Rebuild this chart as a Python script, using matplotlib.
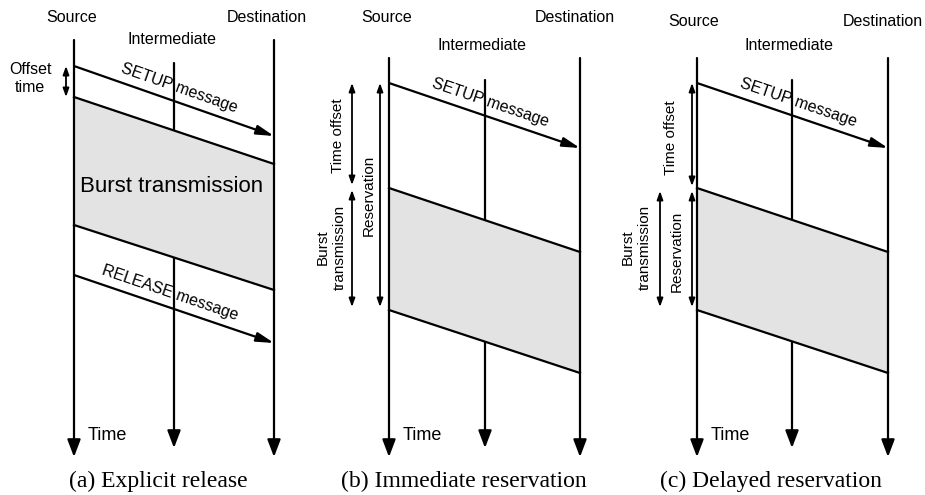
import numpy as np
import matplotlib
matplotlib.use('Agg')
import matplotlib.pyplot as plt
from matplotlib.patches import Polygon

plt.rcParams['font.family'] = ['Liberation Sans', 'DejaVu Sans']

# node columns for the three panels (a), (b), (c)
src_x = [74, 389, 697]
mid_x = [174, 485, 792]
dst_x = [274, 580, 888]
line_top = [40, 58, 58]
mid_top = [63, 80, 80]
tip_y = 457
mid_tip_y = 448

# message / burst edges: (y at source, y at destination)
setup_y = [(66, 136), (83, 148), (83, 148)]
burst_top = [(97, 164), (188, 252), (188, 252)]
burst_bot = [(225, 290), (310, 373), (310, 373)]
release_y = (275, 343)

node_names = ['Source', 'Intermediate', 'Destination']
name_y = [(17, 40, 17), (18, 45, 18), (21, 46, 21)]
name_x = [(72, 172, 267), (387, 482, 575), (694, 789, 883)]
captions = ['(a) Explicit release', '(b) Immediate reservation', '(c) Delayed reservation']
caption_x = [158, 464, 771]

LW = 1.6
fig = plt.figure(figsize=(9.25, 4.95), dpi=100)
ax = fig.add_axes([0, 0, 1, 1])
ax.set_xlim(0, 925)
ax.set_ylim(495, 0)
ax.axis('off')


def arrow(x0, y0, x1, y1, style='-|>', hl=1.05, hw=0.4, lw=LW, z=4):
    ax.annotate('', xy=(x1, y1), xytext=(x0, y0),
                arrowprops=dict(arrowstyle=f'{style},head_length={hl},head_width={hw}',
                                lw=lw, color='k', shrinkA=0, shrinkB=0), zorder=z)


def msg_label(x0, y0, x1, y1, txt, t, off=14, fs=11.5):
    dx, dy = x1 - x0, y1 - y0
    L = np.hypot(dx, dy)
    cx = x0 + dx * t + off * dy / L
    cy = y0 + dy * t - off * dx / L
    ang = -np.degrees(np.arctan2(dy, dx))
    ax.text(cx, cy, txt, rotation=ang, rotation_mode='anchor', ha='center',
            va='center', fontsize=fs, zorder=6)


for i in range(3):
    sx, mx, dx = src_x[i], mid_x[i], dst_x[i]
    # time lines
    arrow(sx, line_top[i], sx, tip_y, z=4)
    arrow(dx, line_top[i], dx, tip_y, z=4)
    arrow(mx, mid_top[i], mx, mid_tip_y, z=1)
    # burst
    poly = Polygon([(sx, burst_top[i][0]), (dx, burst_top[i][1]),
                    (dx, burst_bot[i][1]), (sx, burst_bot[i][0])],
                   closed=True, facecolor='#e3e3e3', edgecolor='none', zorder=2)
    ax.add_patch(poly)
    ax.plot([sx, dx], burst_top[i], color='k', lw=LW, zorder=3)
    ax.plot([sx, dx], burst_bot[i], color='k', lw=LW, zorder=3)
    # setup message
    arrow(sx, setup_y[i][0], dx, setup_y[i][1], hl=1.05, hw=0.28, z=5)
    msg_label(sx, setup_y[i][0], dx, setup_y[i][1], 'SETUP message', 0.505)
    # node names
    for j in range(3):
        ax.text(name_x[i][j], name_y[i][j], node_names[j], ha='center', va='center',
                fontsize=11.5)
    ax.text(sx + 14, 435, 'Time', ha='left', va='center', fontsize=13)
    ax.text(caption_x[i], 481, captions[i], ha='center', va='center', fontsize=17,
            family='Liberation Serif')

# (a) explicit release extras
arrow(src_x[0], release_y[0], dst_x[0], release_y[1], hl=1.05, hw=0.28, z=5)
msg_label(src_x[0], release_y[0], dst_x[0], release_y[1], 'RELEASE message', 0.46)
arrow(66, setup_y[0][0], 66, burst_top[0][0], style='<|-|>', hl=0.5, hw=0.18, lw=1.3)
ax.text(30, 79, 'Offset\ntime', ha='center', va='center', fontsize=11.5, linespacing=1.25)
ax.text(172, 187, 'Burst transmission', ha='center', va='center', fontsize=16, zorder=6)

# (b) immediate reservation
arrow(352, 83, 352, 185, style='<|-|>', hl=0.5, hw=0.18, lw=1.3)
arrow(352, 190, 352, 307, style='<|-|>', hl=0.5, hw=0.18, lw=1.3)
arrow(380, 83, 380, 307, style='<|-|>', hl=0.5, hw=0.18, lw=1.3)
ax.text(338, 136, 'Time offset', rotation=90, ha='center', va='center', fontsize=11)
ax.text(369, 195, 'Reservation', rotation=90, ha='center', va='center', fontsize=11)
ax.text(331, 247, 'Burst\ntransmission', rotation=90, ha='center', va='center',
        fontsize=11, linespacing=1.25)

# (c) delayed reservation
arrow(692, 83, 692, 186, style='<|-|>', hl=0.5, hw=0.18, lw=1.3)
arrow(692, 191, 692, 307, style='<|-|>', hl=0.5, hw=0.18, lw=1.3)
arrow(660, 191, 660, 307, style='<|-|>', hl=0.5, hw=0.18, lw=1.3)
ax.text(671, 138, 'Time offset', rotation=90, ha='center', va='center', fontsize=11)
ax.text(677, 251, 'Reservation', rotation=90, ha='center', va='center', fontsize=11)
ax.text(636, 247, 'Burst\ntransmission', rotation=90, ha='center', va='center',
        fontsize=11, linespacing=1.25)

fig.savefig('out.png', dpi=100)
